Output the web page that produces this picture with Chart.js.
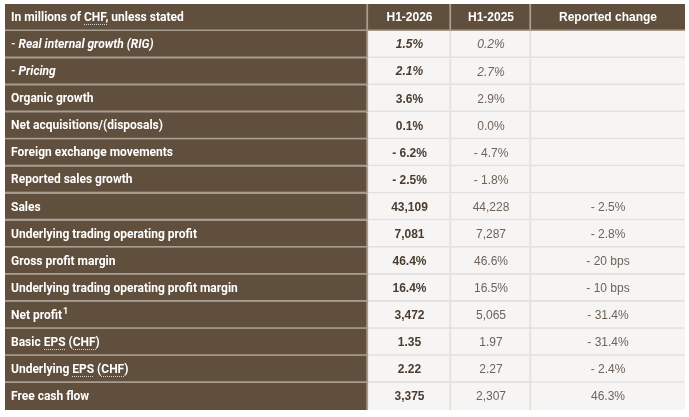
<!DOCTYPE html>
<html>
<head>
<meta charset="utf-8">
<script src="https://cdn.jsdelivr.net/npm/chart.js@4"></script>
<style>
  html, body { margin: 0; padding: 0; background: #ffffff; }
  #wrap { width: 689px; height: 417px; }
</style>
</head>
<body>
<div id="wrap"><canvas id="results-table"></canvas></div>
<script>
const headers = ['In millions of CHF, unless stated', 'H1-2026', 'H1-2025', 'Reported change'];
const rowLabels = ['- Real internal growth (RIG)', '- Pricing', 'Organic growth', 'Net acquisitions/(disposals)',
    'Foreign exchange movements', 'Reported sales growth', 'Sales', 'Underlying trading operating profit',
    'Gross profit margin', 'Underlying trading operating profit margin', 'Net profit', 'Basic EPS (CHF)',
    'Underlying EPS (CHF)', 'Free cash flow'];
const rowNotes = ['', '', '', '', '', '', '', '', '', '', '1', '', '', ''];
const h1_2026 = ['1.5%', '2.1%', '3.6%', '0.1%', '- 6.2%', '- 2.5%', '43,109', '7,081', '46.4%', '16.4%', '3,472', '1.35', '2.22', '3,375'];
const h1_2025 = ['0.2%', '2.7%', '2.9%', '0.0%', '- 4.7%', '- 1.8%', '44,228', '7,287', '46.6%', '16.5%', '5,065', '1.97', '2.27', '2,307'];
const reportedChange = ['', '', '', '', '', '', '- 2.5%', '- 2.8%', '- 20 bps', '- 10 bps', '- 31.4%', '- 31.4%', '- 2.4%', '46.3%'];

// layout / style (not data)
const colEdges = [0, 363, 446, 526, 680];
const italicRows = [0, 1];
const abbrs = ['CHF', 'EPS'];
const BROWN = '#614f3d';
const CELL = '#f6f5f4';
const LABEL_FONT = "Roboto, 'Liberation Sans', sans-serif";
const VALUE_FONT = "'Liberation Sans', Arial, sans-serif";

const columns = [rowLabels, h1_2026, h1_2025, reportedChange];
const rowKeys = ['header'].concat(rowLabels);

function isBrown(row, col) { return row === 0 || col === 0; }

const datasets = columns.map((col, c) => ({
    label: headers[c],
    data: rowKeys.map(() => [colEdges[c], colEdges[c + 1]]),
    backgroundColor: ctx => isBrown(ctx.dataIndex, c) ? BROWN : CELL,
    borderColor: ctx => isBrown(ctx.dataIndex, c) ? '#a89d91' : '#e4e1dd',
    borderWidth: ctx => ({
        top: 0, left: 0,
        right: c < columns.length - 1 ? 2 : 0,
        bottom: ctx.dataIndex < rowKeys.length - 1 ? 2 : 0
    }),
    borderSkipped: false,
    barPercentage: 1,
    categoryPercentage: 1,
    grouped: false
}));

function drawDots(ctx, x, y, w, color) {
    ctx.save();
    ctx.fillStyle = color;
    for (let px = x; px < x + w; px += 2) ctx.fillRect(Math.round(px), y, 1, 1);
    ctx.restore();
}

function drawLabel(ctx, text, x, y, dotColor) {
    ctx.fillText(text, x, y);
    abbrs.forEach(a => {
        let idx = text.indexOf(a);
        while (idx >= 0) {
            const off = ctx.measureText(text.slice(0, idx)).width;
            const w = ctx.measureText(a).width;
            drawDots(ctx, x + off, Math.round(y + 6), w, dotColor);
            idx = text.indexOf(a, idx + 1);
        }
    });
}

const tableText = {
    id: 'tableText',
    afterDatasetsDraw(chart) {
        const ctx = chart.ctx;
        const xs = chart.scales.x, ys = chart.scales.y;
        ctx.save();
        ctx.textBaseline = 'middle';
        rowKeys.forEach((key, r) => {
            const y = ys.getPixelForValue(r) + 0.5;
            for (let c = 0; c < columns.length; c++) {
                const text = r === 0 ? headers[c] : columns[c][r - 1];
                if (!text) continue;
                const italic = r > 0 && italicRows.includes(r - 1) ? 'italic ' : '';
                const bold = (r === 0 || c <= 1) ? 'bold ' : '';
                if (c === 0) {
                    ctx.font = italic + bold + '12px ' + LABEL_FONT;
                    ctx.textAlign = 'left';
                    ctx.fillStyle = '#ffffff';
                    const x = xs.getPixelForValue(colEdges[0]) + 6;
                    drawLabel(ctx, text, x, y, '#d8d0c6');
                    const note = r > 0 ? rowNotes[r - 1] : '';
                    if (note) {
                        const w = ctx.measureText(text).width;
                        ctx.font = 'bold 9px ' + LABEL_FONT;
                        ctx.fillText(note, x + w + 1, y - 4);
                    }
                } else {
                    ctx.font = italic + bold + '12px ' + VALUE_FONT;
                    ctx.textAlign = 'center';
                    ctx.fillStyle = r === 0 ? '#ffffff' : (c === 1 ? '#4b3c2f' : '#6f6358');
                    const x = (xs.getPixelForValue(colEdges[c]) + xs.getPixelForValue(colEdges[c + 1])) / 2;
                    ctx.fillText(text, x, y);
                }
            }
        });
        ctx.restore();
    }
};

new Chart(document.getElementById('results-table').getContext('2d'), {
    type: 'bar',
    data: { labels: rowKeys, datasets: datasets },
    options: {
        indexAxis: 'y',
        responsive: true,
        maintainAspectRatio: false,
        animation: false,
        events: [],
        layout: { padding: { left: 5, top: 4, right: 4, bottom: 7 } },
        scales: {
            x: { type: 'linear', min: 0, max: colEdges[colEdges.length - 1], display: false },
            y: { type: 'category', offset: true, display: false }
        },
        plugins: {
            legend: { display: false },
            tooltip: { enabled: false },
            title: { display: false }
        }
    },
    plugins: [tableText]
});
</script>
</body>
</html>
